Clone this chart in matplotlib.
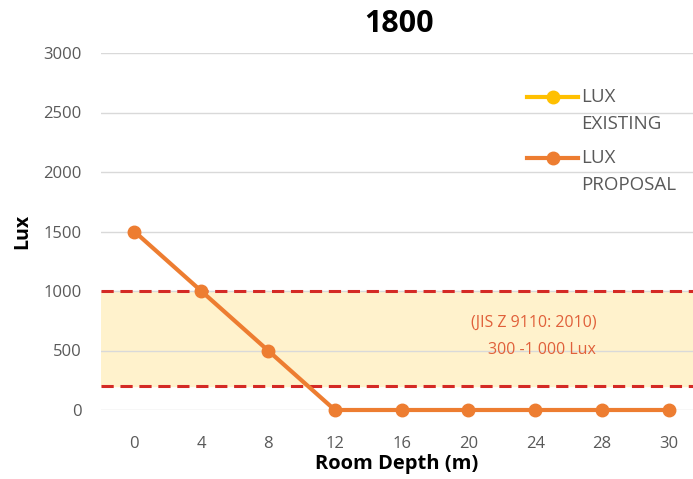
import matplotlib
matplotlib.use("Agg")
from matplotlib import pyplot as plt

depths = ["0", "4", "8", "12", "16", "20", "24", "28", "30"]
lux_proposal = [1500, 1000, 500, 0, 0, 0, 0, 0, 0]
band_low, band_high = 200, 1000
y_ticks = [0, 500, 1000, 1500, 2000, 2500, 3000]

plt.rcParams['font.family'] = ['Open Sans', 'DejaVu Sans']

fig = plt.figure(figsize=(6.93, 4.79), dpi=100)
ax = fig.add_axes([101 / 693, 1 - 410 / 479, 1 - 101 / 693, 357 / 479])

x = list(range(len(depths)))

# recommended illuminance band
ax.axhspan(band_low, band_high, color='#FFF2CC', zorder=0)
ax.axhline(band_high, color='#D42A25', lw=2.2, ls=(0, (4, 2.2)), zorder=3)
ax.axhline(band_low, color='#D42A25', lw=2.2, ls=(0, (4, 2.2)), zorder=3)

ax.plot(x, lux_proposal, color='#ED7D31', lw=3, marker='o', ms=9,
        clip_on=False, zorder=4)

# legend drawn by hand in the upper right
legend = [(2630, '#FFC000', "EXISTING"), (2118, '#ED7D31', "PROPOSAL")]
for yy, col, name in legend:
    ax.plot([5.88, 6.64], [yy, yy], color=col, lw=3, zorder=4)
    ax.plot([6.26], [yy], 'o', color=col, ms=9, zorder=4)
    ax.text(6.68, yy, "LUX", va='center', ha='left', fontsize=13.5,
            color='#595959')
    ax.text(6.68, yy - 225, name, va='center', ha='left', fontsize=13.5,
            color='#595959')

ax.text(5.98, 730, "(JIS Z 9110: 2010)", ha='center', va='center',
        fontsize=11.5, color='#E0603A', fontweight='medium')
ax.text(6.1, 500, "300 -1 000 Lux", ha='center', va='center',
        fontsize=11.5, color='#E0603A', fontweight='medium')

ax.set_xlim(-0.5, 8.36)
ax.set_ylim(0, 3000)
ax.set_xticks(x)
ax.set_xticklabels(depths)
ax.set_yticks(y_ticks)
ax.grid(axis='y', color='#D9D9D9', lw=1)
ax.set_axisbelow(True)
for s in ax.spines.values():
    s.set_visible(False)
ax.tick_params(length=0, labelsize=12, colors='#595959', pad=14)
ax.tick_params(axis='x', pad=19)

ax.set_ylabel("Lux", fontsize=14, fontweight='bold', labelpad=8)
ax.set_xlabel("Room Depth (m)", fontsize=14.5, fontweight='bold', labelpad=1)
fig.text(399 / 693, 1 - 24 / 479, "1800", ha='center', va='center',
         fontsize=22, fontweight='bold')

fig.savefig("out.png", dpi=100)
